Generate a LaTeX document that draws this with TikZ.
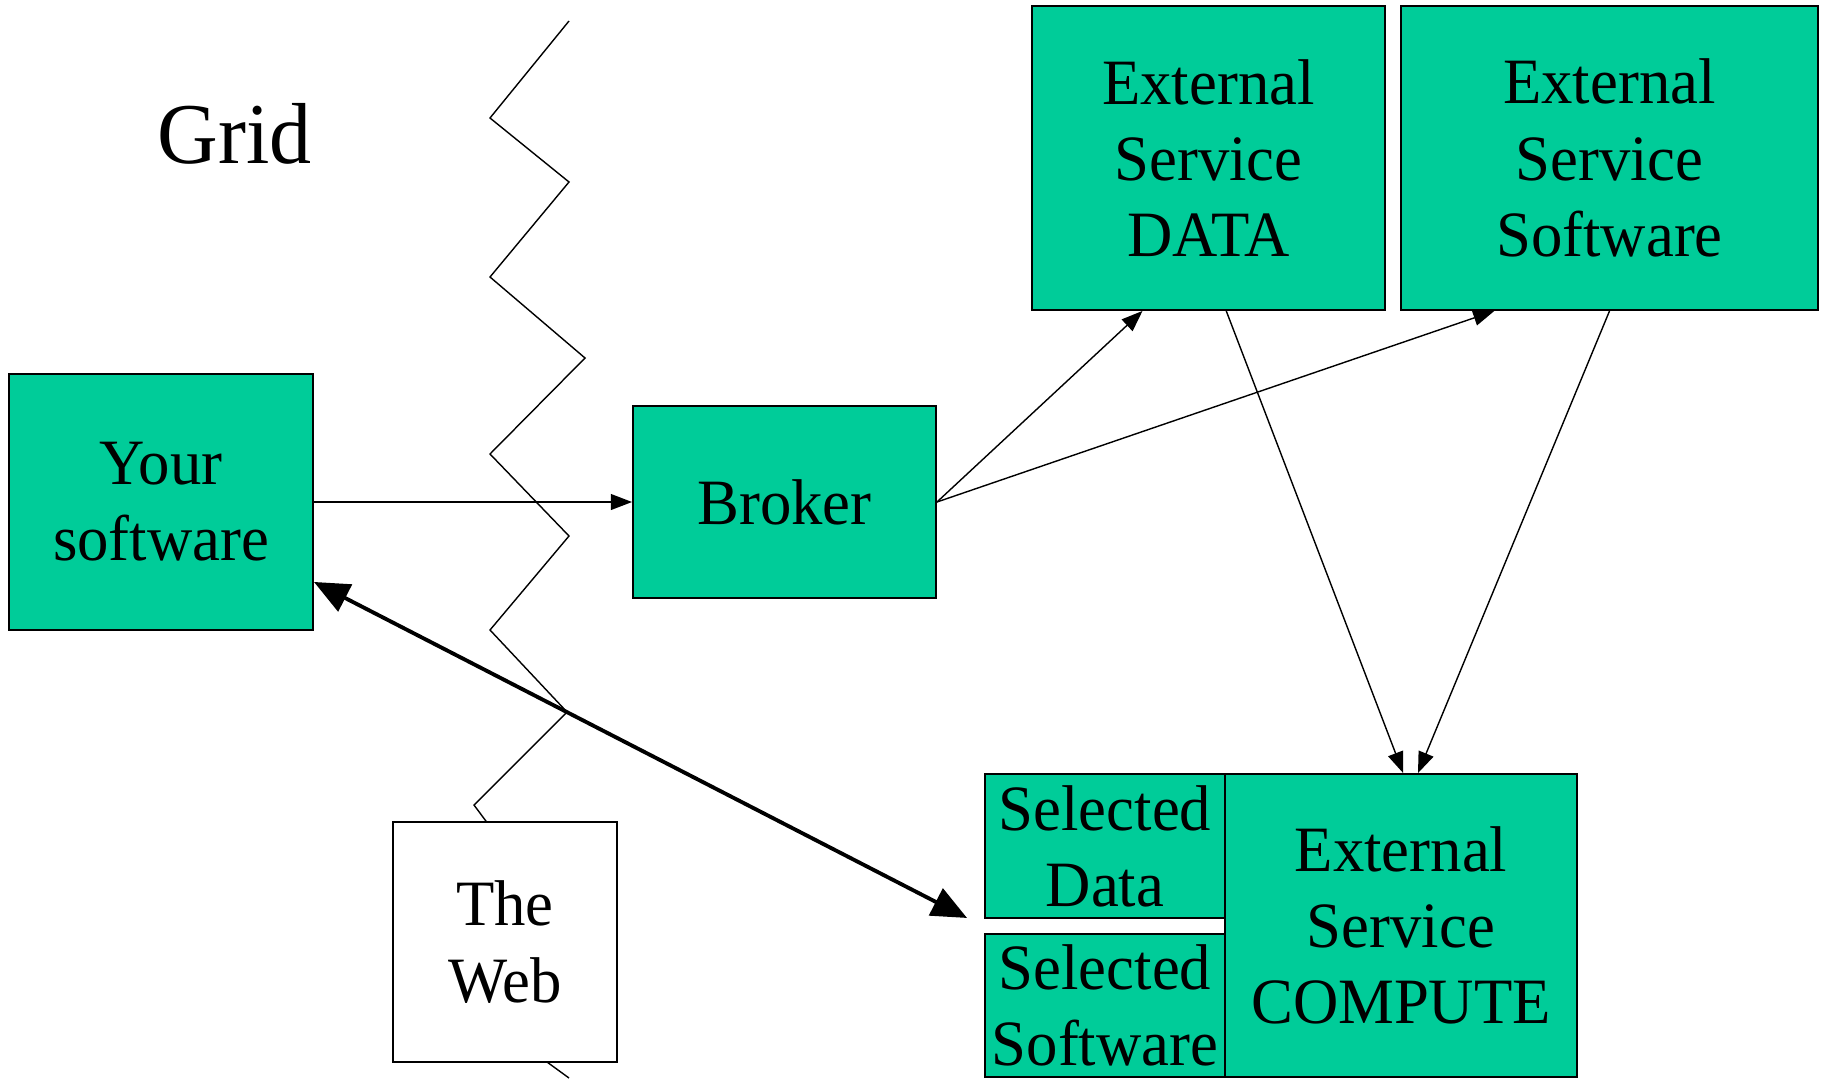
\documentclass[tikz,border=0pt]{standalone}
\usepackage{fontspec}
\setmainfont{Liberation Serif}[FakeStretch=0.97]
\usetikzlibrary{arrows.meta,calc}
\definecolor{boxgreen}{RGB}{0,204,153}
\tikzset{
  gbox/.style={draw=black, line width=1.1pt, fill=boxgreen, rectangle, inner sep=0pt,
    align=center, font=\fontsize{36.8}{43.4}\selectfont},
  wbox/.style={gbox, fill=white},
  thin arrow/.style={line width=0.8pt, -{Triangle[length=12pt,width=9pt]}},
  thick arrow/.style={line width=2.2pt, {Triangle[length=20pt,width=17pt]}-{Triangle[length=20pt,width=17pt]}},
  zig/.style={line width=0.8pt}
}
\begin{document}
\begin{tikzpicture}[x=0.02cm, y=-0.02cm]
\useasboundingbox (0,0) rectangle (1824,1078);
% zigzag boundary between Grid and Web
\draw[zig] (569,21) -- (490,118) -- (569,182) -- (490,277) -- (585,358) -- (490,454)
  -- (569,536) -- (490,630) -- (567,712) -- (474,805) -- (500,840) -- (530,1040)
  -- (547,1062) -- (569,1078);
% title
\node[anchor=base, font=\fontsize{49.3}{58}\selectfont] (grid) at (235,163) {Grid};
% boxes
\node[gbox, minimum width=304*0.02cm, minimum height=256*0.02cm] (your) at (161,502) {Your\\software};
\node[gbox, minimum width=303*0.02cm, minimum height=192*0.02cm] (broker) at (784.5,502) {Broker};
\node[gbox, minimum width=353*0.02cm, minimum height=304*0.02cm] (data) at (1208.5,158) {External\\Service\\DATA};
\node[gbox, minimum width=417*0.02cm, minimum height=304*0.02cm] (soft) at (1609.5,158) {External\\Service\\Software};
\node[gbox, minimum width=352*0.02cm, minimum height=303*0.02cm] (compute) at (1401,925.5) {External\\Service\\COMPUTE};
\node[gbox, minimum width=240*0.02cm, minimum height=144*0.02cm] (seldata) at (1105,846) {Selected\\Data};
\node[gbox, minimum width=240*0.02cm, minimum height=143*0.02cm] (selsoft) at (1105,1005.5) {Selected\\Software};
\node[wbox, minimum width=224*0.02cm, minimum height=240*0.02cm] (web) at (505,942) {The\\Web};
% connectors
\draw[thin arrow] (your.east) -- (broker.west);
\draw[thin arrow] (broker.east) -- ($(data.south west)!0.314!(data.south east)$);
\draw[thin arrow] (broker.east) -- ($(soft.south west)!0.225!(soft.south east)$);
\draw[thin arrow] ($(data.south west)!0.55!(data.south east)$) -- ($(compute.north west)!0.506!(compute.north east)$);
\draw[thin arrow] (soft.south) -- ($(compute.north west)!0.548!(compute.north east)$);
\coordinate (webend) at ($(seldata.south west)+(-17,-1)$);
\draw[thick arrow] ($(your.north east)!0.81!(your.south east)$) -- (webend);
\end{tikzpicture}
\end{document}
